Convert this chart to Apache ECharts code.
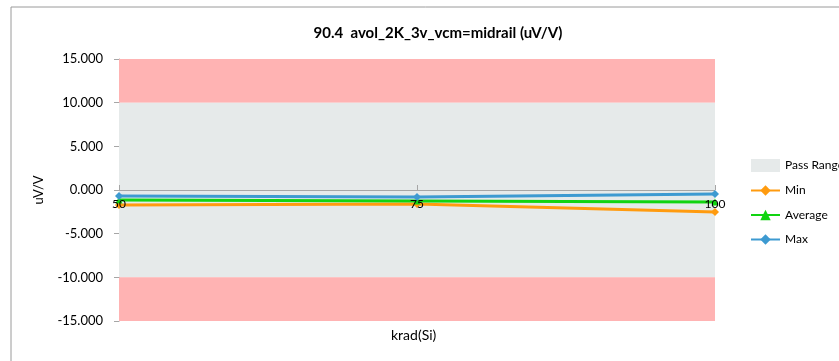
<!DOCTYPE html>
<html><head><meta charset="utf-8">
<script src="https://cdn.jsdelivr.net/npm/echarts@6/dist/echarts.min.js"></script>
<style>html,body{margin:0;padding:0;background:#fff}#c{width:839px;height:361px}</style>
</head><body><div id="c"></div>
<script>
const categories = ['50', '75', '100'];
const minValues = [-1.72, -1.60, -2.52];
const avgValues = [-1.15, -1.26, -1.37];
const maxValues = [-0.69, -0.80, -0.46];
const passLow = -10, passHigh = 10;
const axisMin = -15, axisMax = 15, axisStep = 5;
const FONT = 'Lato';

const chart = echarts.init(document.getElementById('c'));
const lineSeries = (name, data, color, symbol) => ({
  name, type: 'line', data, symbol, symbolSize: symbol === 'triangle' ? 7 : 8,
  lineStyle: {color, width: 3}, itemStyle: {color}, z: 5
});
chart.setOption({
  animation: false,
  textStyle: {fontFamily: FONT},
  title: {text: '90.4  avol_2K_3v_vcm=midrail (uV/V)', left: 433, top: 21, textAlign: 'center',
    textStyle: {fontFamily: FONT, fontSize: 15, fontWeight: 'bold', color: '#000'}},
  graphic: [
    {type: 'rect', shape: {x: 11, y: 7, width: 900, height: 400}, style: {fill: 'none', stroke: '#9a9a9a', lineWidth: 1}, z: -10},
    {type: 'text', left: 391, top: 328, style: {text: 'krad(Si)', font: '14px ' + FONT, fill: '#000'}}
  ],
  legend: {
    orient: 'vertical', left: 745, top: 154, itemGap: 12.5, itemWidth: 29, itemHeight: 13,
    textStyle: {fontFamily: FONT, fontSize: 12, color: '#000'},
    data: [
      {name: 'Pass Range', icon: 'rect', itemStyle: {color: '#e6eaea'}},
      {name: 'Min'}, {name: 'Average'}, {name: 'Max'}
    ]
  },
  grid: {left: 119, right: 124, top: 59, bottom: 40},
  xAxis: {
    type: 'category', data: categories, boundaryGap: false, position: 'bottom', offset: -131, z: 20,
    axisLine: {show: false, onZero: false},
    axisTick: {show: true, inside: true, length: 5, lineStyle: {color: '#a6a6a6'}},
    axisLabel: {color: '#000', fontSize: 12, margin: 8, fontFamily: FONT},
    splitLine: {show: false}
  },
  yAxis: {
    type: 'value', min: axisMin, max: axisMax, interval: axisStep,
    name: 'uV/V', nameLocation: 'middle', nameGap: 74, nameRotate: 90,
    nameTextStyle: {fontFamily: FONT, fontSize: 13, color: '#000'},
    axisLine: {show: true, lineStyle: {color: '#a6a6a6'}},
    axisTick: {show: true, length: 5, lineStyle: {color: '#a6a6a6'}},
    axisLabel: {color: '#000', fontSize: 13, margin: 16, fontFamily: FONT, formatter: v => v.toFixed(3)},
    splitLine: {show: false}
  },
  series: [
    {name: 'Pass Range', type: 'line', data: [], itemStyle: {color: '#e6eaea'}, z: 1,
      markArea: {silent: true, data: [
        [{yAxis: passHigh, itemStyle: {color: '#ffb3b3'}}, {yAxis: axisMax}],
        [{yAxis: passLow, itemStyle: {color: '#e6eaea'}}, {yAxis: passHigh}],
        [{yAxis: axisMin, itemStyle: {color: '#ffb3b3'}}, {yAxis: passLow}]
      ]},
      markLine: {silent: true, symbol: 'none', label: {show: false},
        lineStyle: {color: '#a6a6a6', type: 'solid', width: 1}, data: [{yAxis: 0}]}},
    lineSeries('Min', minValues, '#ff9b0f', 'diamond'),
    lineSeries('Average', avgValues, '#11d411', 'triangle'),
    lineSeries('Max', maxValues, '#3d9ad1', 'diamond')
  ]
});
</script></body></html>
